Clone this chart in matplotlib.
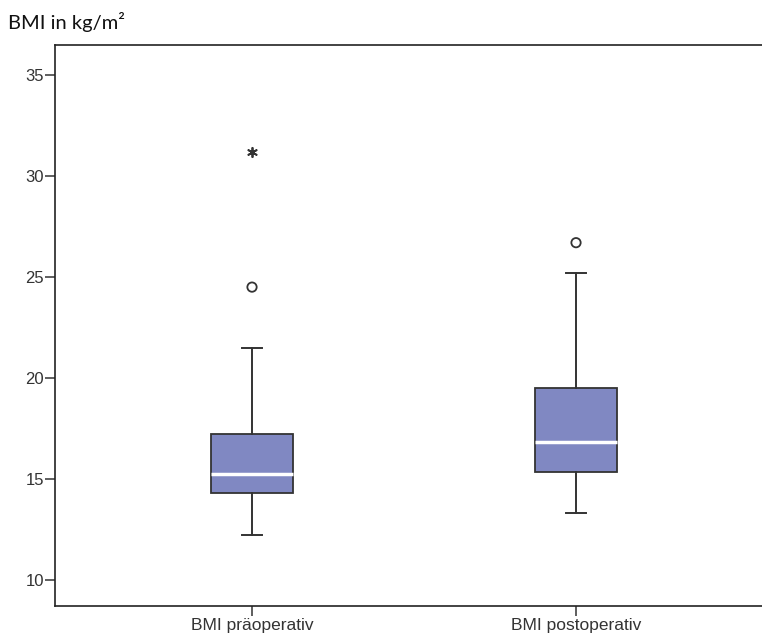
import matplotlib.pyplot as plt

plt.rcParams["font.family"] = ["Liberation Sans", "DejaVu Sans"]

# Daten
labels = ["BMI präoperativ", "BMI postoperativ"]
whislo = [12.2, 13.3]
q1 = [14.3, 15.35]
med = [15.25, 16.85]
q3 = [17.25, 19.5]
whishi = [21.5, 25.2]
outliers = [[24.5], [26.7]]      # Kreise
extremes = [[31.2], []]          # Sterne

box_color = "#8088c2"
edge_color = "#333333"

stats = []
for i in range(len(labels)):
    stats.append(dict(label=labels[i], whislo=whislo[i], q1=q1[i], med=med[i],
                      q3=q3[i], whishi=whishi[i], fliers=[]))

fig = plt.figure(figsize=(7.62, 6.38), dpi=100)
ax = fig.add_axes([0.0722, 0.0502, 0.9278, 0.8793])

positions = [1, 2]
ax.bxp(stats, positions=positions, widths=0.253, showfliers=False, patch_artist=True,
       boxprops=dict(facecolor=box_color, edgecolor=edge_color, linewidth=1.3),
       medianprops=dict(color="white", linewidth=2.5),
       whiskerprops=dict(color=edge_color, linewidth=1.4),
       capprops=dict(color=edge_color, linewidth=1.4),
       capwidths=0.064)

for p, vals in zip(positions, outliers):
    ax.scatter([p] * len(vals), vals, marker="o", s=45, facecolors="none",
               edgecolors=edge_color, linewidths=1.3, zorder=3)
for p, vals in zip(positions, extremes):
    if vals:
        ax.scatter([p] * len(vals), vals, marker=(6, 2, 0), s=45, color=edge_color,
                   linewidths=1.3, zorder=3)

ax.set_xlim(0.392, 2.574)
ax.set_ylim(8.71, 36.49)
ax.set_yticks([10, 15, 20, 25, 30, 35])
ax.set_xticks(positions)
ax.set_xticklabels(labels)

ax.spines["right"].set_visible(False)
for s in ["left", "top", "bottom"]:
    ax.spines[s].set_color("#222222")
    ax.spines[s].set_linewidth(1.2)

ax.tick_params(axis="y", direction="out", length=7, width=1.1, color="#333333",
               labelsize=12, labelcolor="#333333", pad=1)
ax.tick_params(axis="x", direction="out", length=7, width=1.1, color="#333333",
               labelsize=12.5, labelcolor="#333333", pad=2)

fig.text(0.011, 0.965, "BMI in kg/m²", fontsize=14.5, family=["Lato", "DejaVu Sans"],
         ha="left", va="center", color="#111111")

fig.savefig("out.png", dpi=100)
